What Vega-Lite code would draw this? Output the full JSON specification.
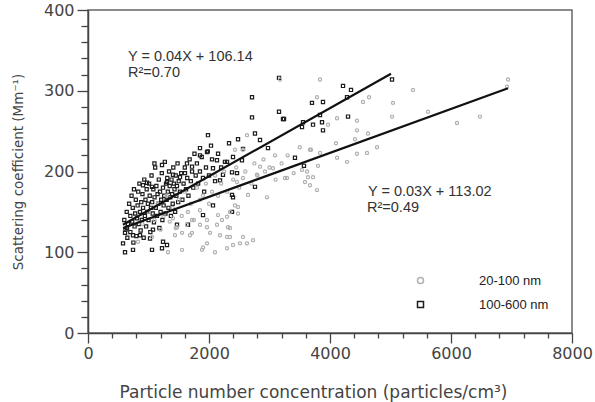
{
  "$schema": "https://vega.github.io/schema/vega-lite/v6.json",
  "width": 484,
  "height": 323,
  "autosize": {"type": "none"},
  "padding": {"left": 88, "top": 10, "right": 23, "bottom": 69},
  "background": "white",
  "config": {
    "view": {"stroke": "#666", "strokeWidth": 1.5},
    "font": "Liberation Sans",
    "axis": {
      "domainColor": "#444", "domainWidth": 1.5, "tickColor": "#444", "tickWidth": 1.3,
      "labelFont": "DejaVu Sans", "labelFontSize": 16, "labelColor": "#444",
      "titleFont": "DejaVu Sans", "titleFontWeight": "normal", "titleColor": "#444",
      "grid": false, "labelOverlap": false, "labelFlush": false
    }
  },
  "datasets": {
    "pts": [
      {"x":3157,"y":316,"g":"100-600 nm"},{"x":2711,"y":292,"g":"100-600 nm"},{"x":2711,"y":267,"g":"100-600 nm"},{"x":3157,"y":274,"g":"100-600 nm"},{"x":3240,"y":265,"g":"100-600 nm"},{"x":1983,"y":245,"g":"100-600 nm"},{"x":2760,"y":247,"g":"100-600 nm"},{"x":2331,"y":235,"g":"100-600 nm"},{"x":2480,"y":240,"g":"100-600 nm"},{"x":1223,"y":208,"g":"100-600 nm"},{"x":4215,"y":306,"g":"100-600 nm"},{"x":4347,"y":301,"g":"100-600 nm"},{"x":3702,"y":285,"g":"100-600 nm"},{"x":3884,"y":286,"g":"100-600 nm"},{"x":4281,"y":292,"g":"100-600 nm"},{"x":3223,"y":265,"g":"100-600 nm"},{"x":4298,"y":268,"g":"100-600 nm"},{"x":3719,"y":258,"g":"100-600 nm"},{"x":3884,"y":251,"g":"100-600 nm"},{"x":3868,"y":261,"g":"100-600 nm"},{"x":5025,"y":314,"g":"100-600 nm"},{"x":3421,"y":217,"g":"100-600 nm"},{"x":3570,"y":207,"g":"100-600 nm"},{"x":2843,"y":239,"g":"100-600 nm"},{"x":2562,"y":228,"g":"100-600 nm"},{"x":2545,"y":214,"g":"100-600 nm"},{"x":2975,"y":229,"g":"100-600 nm"},{"x":2264,"y":212,"g":"100-600 nm"},{"x":2380,"y":199,"g":"100-600 nm"},{"x":2231,"y":196,"g":"100-600 nm"},{"x":2463,"y":198,"g":"100-600 nm"},{"x":2182,"y":189,"g":"100-600 nm"},{"x":2380,"y":171,"g":"100-600 nm"},{"x":2397,"y":168,"g":"100-600 nm"},{"x":2760,"y":181,"g":"100-600 nm"},{"x":2380,"y":150,"g":"100-600 nm"},{"x":3835,"y":270,"g":"100-600 nm"},{"x":3554,"y":261,"g":"100-600 nm"},{"x":3537,"y":255,"g":"100-600 nm"},{"x":1636,"y":210,"g":"100-600 nm"},{"x":1851,"y":229,"g":"100-600 nm"},{"x":1967,"y":224,"g":"100-600 nm"},{"x":2033,"y":232,"g":"100-600 nm"},{"x":1851,"y":220,"g":"100-600 nm"},{"x":1719,"y":206,"g":"100-600 nm"},{"x":1603,"y":198,"g":"100-600 nm"},{"x":1405,"y":196,"g":"100-600 nm"},{"x":975,"y":186,"g":"100-600 nm"},{"x":909,"y":183,"g":"100-600 nm"},{"x":1058,"y":181,"g":"100-600 nm"},{"x":1306,"y":187,"g":"100-600 nm"},{"x":1521,"y":193,"g":"100-600 nm"},{"x":2066,"y":204,"g":"100-600 nm"},{"x":2298,"y":212,"g":"100-600 nm"},{"x":2397,"y":218,"g":"100-600 nm"},{"x":2132,"y":214,"g":"100-600 nm"},{"x":1098,"y":210,"g":"100-600 nm"},
      {"x":579,"y":111,"g":"100-600 nm"},{"x":612,"y":100,"g":"100-600 nm"},{"x":744,"y":103,"g":"100-600 nm"},{"x":1058,"y":103,"g":"100-600 nm"},{"x":1223,"y":105,"g":"100-600 nm"},{"x":612,"y":124,"g":"100-600 nm"},{"x":744,"y":121,"g":"100-600 nm"},{"x":860,"y":121,"g":"100-600 nm"},{"x":1025,"y":117,"g":"100-600 nm"},{"x":1074,"y":128,"g":"100-600 nm"},{"x":1240,"y":113,"g":"100-600 nm"},{"x":1306,"y":109,"g":"100-600 nm"},{"x":1471,"y":134,"g":"100-600 nm"},{"x":1653,"y":134,"g":"100-600 nm"},{"x":1901,"y":146,"g":"100-600 nm"},{"x":2066,"y":158,"g":"100-600 nm"},{"x":645,"y":130,"g":"100-600 nm"},
      {"x":600,"y":140,"g":"100-600 nm"},{"x":620,"y":128,"g":"100-600 nm"},{"x":640,"y":150,"g":"100-600 nm"},{"x":650,"y":118,"g":"100-600 nm"},{"x":660,"y":135,"g":"100-600 nm"},{"x":680,"y":160,"g":"100-600 nm"},{"x":700,"y":145,"g":"100-600 nm"},{"x":700,"y":125,"g":"100-600 nm"},{"x":720,"y":170,"g":"100-600 nm"},{"x":730,"y":138,"g":"100-600 nm"},{"x":740,"y":155,"g":"100-600 nm"},{"x":750,"y":112,"g":"100-600 nm"},{"x":760,"y":178,"g":"100-600 nm"},{"x":770,"y":132,"g":"100-600 nm"},{"x":780,"y":148,"g":"100-600 nm"},{"x":790,"y":165,"g":"100-600 nm"},{"x":800,"y":120,"g":"100-600 nm"},{"x":810,"y":142,"g":"100-600 nm"},{"x":820,"y":158,"g":"100-600 nm"},{"x":830,"y":175,"g":"100-600 nm"},{"x":840,"y":135,"g":"100-600 nm"},{"x":850,"y":185,"g":"100-600 nm"},{"x":860,"y":150,"g":"100-600 nm"},{"x":870,"y":127,"g":"100-600 nm"},{"x":880,"y":162,"g":"100-600 nm"},{"x":890,"y":140,"g":"100-600 nm"},{"x":900,"y":172,"g":"100-600 nm"},{"x":910,"y":155,"g":"100-600 nm"},{"x":920,"y":118,"g":"100-600 nm"},{"x":930,"y":190,"g":"100-600 nm"},{"x":940,"y":145,"g":"100-600 nm"},{"x":950,"y":165,"g":"100-600 nm"},{"x":960,"y":132,"g":"100-600 nm"},{"x":970,"y":178,"g":"100-600 nm"},{"x":980,"y":150,"g":"100-600 nm"},{"x":990,"y":160,"g":"100-600 nm"},{"x":1000,"y":140,"g":"100-600 nm"},{"x":1010,"y":185,"g":"100-600 nm"},{"x":1020,"y":170,"g":"100-600 nm"},{"x":1030,"y":125,"g":"100-600 nm"},{"x":1040,"y":155,"g":"100-600 nm"},{"x":1050,"y":195,"g":"100-600 nm"},{"x":1060,"y":162,"g":"100-600 nm"},{"x":1070,"y":148,"g":"100-600 nm"},{"x":1080,"y":178,"g":"100-600 nm"},{"x":1090,"y":137,"g":"100-600 nm"},{"x":1100,"y":168,"g":"100-600 nm"},{"x":1110,"y":205,"g":"100-600 nm"},{"x":1120,"y":155,"g":"100-600 nm"},{"x":1130,"y":182,"g":"100-600 nm"},{"x":1140,"y":145,"g":"100-600 nm"},{"x":1150,"y":172,"g":"100-600 nm"},{"x":1160,"y":160,"g":"100-600 nm"},{"x":1170,"y":190,"g":"100-600 nm"},{"x":1180,"y":130,"g":"100-600 nm"},{"x":1190,"y":175,"g":"100-600 nm"},{"x":1200,"y":150,"g":"100-600 nm"},{"x":1210,"y":165,"g":"100-600 nm"},{"x":1220,"y":198,"g":"100-600 nm"},{"x":1230,"y":140,"g":"100-600 nm"},{"x":1240,"y":180,"g":"100-600 nm"},{"x":1250,"y":158,"g":"100-600 nm"},{"x":1260,"y":170,"g":"100-600 nm"},{"x":1270,"y":212,"g":"100-600 nm"},{"x":1280,"y":148,"g":"100-600 nm"},{"x":1290,"y":185,"g":"100-600 nm"},{"x":1300,"y":165,"g":"100-600 nm"},{"x":1310,"y":192,"g":"100-600 nm"},{"x":1320,"y":175,"g":"100-600 nm"},{"x":1330,"y":155,"g":"100-600 nm"},{"x":1340,"y":200,"g":"100-600 nm"},{"x":1350,"y":182,"g":"100-600 nm"},{"x":1360,"y":168,"g":"100-600 nm"},{"x":1370,"y":145,"g":"100-600 nm"},{"x":1380,"y":190,"g":"100-600 nm"},{"x":1390,"y":172,"g":"100-600 nm"},{"x":1400,"y":160,"g":"100-600 nm"},{"x":1410,"y":205,"g":"100-600 nm"},{"x":1420,"y":185,"g":"100-600 nm"},{"x":1430,"y":178,"g":"100-600 nm"},{"x":1440,"y":150,"g":"100-600 nm"},{"x":1450,"y":195,"g":"100-600 nm"},{"x":1460,"y":170,"g":"100-600 nm"},{"x":1470,"y":182,"g":"100-600 nm"},{"x":1480,"y":210,"g":"100-600 nm"},{"x":1490,"y":162,"g":"100-600 nm"},{"x":1500,"y":188,"g":"100-600 nm"},{"x":1520,"y":175,"g":"100-600 nm"},{"x":1540,"y":198,"g":"100-600 nm"},{"x":1560,"y":165,"g":"100-600 nm"},{"x":1580,"y":185,"g":"100-600 nm"},{"x":1600,"y":205,"g":"100-600 nm"},{"x":1620,"y":178,"g":"100-600 nm"},{"x":1640,"y":192,"g":"100-600 nm"},{"x":1660,"y":170,"g":"100-600 nm"},{"x":1680,"y":215,"g":"100-600 nm"},{"x":1700,"y":188,"g":"100-600 nm"},{"x":1720,"y":200,"g":"100-600 nm"},{"x":1740,"y":180,"g":"100-600 nm"},{"x":1760,"y":222,"g":"100-600 nm"},{"x":1780,"y":195,"g":"100-600 nm"},{"x":1800,"y":210,"g":"100-600 nm"},{"x":1820,"y":185,"g":"100-600 nm"},{"x":1850,"y":200,"g":"100-600 nm"},{"x":1880,"y":218,"g":"100-600 nm"},{"x":1900,"y":192,"g":"100-600 nm"},{"x":1920,"y":175,"g":"100-600 nm"},{"x":1950,"y":205,"g":"100-600 nm"},{"x":1980,"y":225,"g":"100-600 nm"},{"x":2000,"y":195,"g":"100-600 nm"},{"x":2050,"y":215,"g":"100-600 nm"},{"x":2100,"y":188,"g":"100-600 nm"},{"x":2150,"y":222,"g":"100-600 nm"},{"x":2200,"y":205,"g":"100-600 nm"},
      {"x":6942,"y":314,"g":"20-100 nm"},{"x":5372,"y":301,"g":"20-100 nm"},{"x":3835,"y":314,"g":"20-100 nm"},{"x":3174,"y":314,"g":"20-100 nm"},{"x":4545,"y":286,"g":"20-100 nm"},{"x":4645,"y":292,"g":"20-100 nm"},{"x":5041,"y":285,"g":"20-100 nm"},{"x":3785,"y":292,"g":"20-100 nm"},{"x":5620,"y":274,"g":"20-100 nm"},{"x":6099,"y":260,"g":"20-100 nm"},{"x":6479,"y":268,"g":"20-100 nm"},{"x":5025,"y":268,"g":"20-100 nm"},{"x":4446,"y":263,"g":"20-100 nm"},{"x":4116,"y":266,"g":"20-100 nm"},{"x":3967,"y":258,"g":"20-100 nm"},{"x":4446,"y":251,"g":"20-100 nm"},{"x":4413,"y":240,"g":"20-100 nm"},{"x":4628,"y":247,"g":"20-100 nm"},{"x":4777,"y":230,"g":"20-100 nm"},{"x":4612,"y":223,"g":"20-100 nm"},{"x":4446,"y":222,"g":"20-100 nm"},{"x":4281,"y":212,"g":"20-100 nm"},{"x":4116,"y":217,"g":"20-100 nm"},{"x":4099,"y":235,"g":"20-100 nm"},{"x":3835,"y":223,"g":"20-100 nm"},{"x":3686,"y":227,"g":"20-100 nm"},{"x":3802,"y":207,"g":"20-100 nm"},{"x":3537,"y":202,"g":"20-100 nm"},{"x":3620,"y":200,"g":"20-100 nm"},{"x":3636,"y":193,"g":"20-100 nm"},{"x":3719,"y":193,"g":"20-100 nm"},{"x":3587,"y":187,"g":"20-100 nm"},{"x":3669,"y":183,"g":"20-100 nm"},{"x":3785,"y":177,"g":"20-100 nm"},{"x":3256,"y":192,"g":"20-100 nm"},{"x":6926,"y":305,"g":"20-100 nm"},
      {"x":826,"y":113,"g":"20-100 nm"},{"x":1058,"y":119,"g":"20-100 nm"},{"x":1322,"y":100,"g":"20-100 nm"},{"x":1554,"y":103,"g":"20-100 nm"},{"x":1438,"y":121,"g":"20-100 nm"},{"x":1554,"y":124,"g":"20-100 nm"},{"x":1686,"y":121,"g":"20-100 nm"},{"x":1719,"y":124,"g":"20-100 nm"},{"x":1884,"y":103,"g":"20-100 nm"},{"x":2099,"y":100,"g":"20-100 nm"},{"x":2298,"y":105,"g":"20-100 nm"},{"x":2397,"y":109,"g":"20-100 nm"},{"x":2512,"y":111,"g":"20-100 nm"},{"x":2628,"y":111,"g":"20-100 nm"},{"x":2727,"y":115,"g":"20-100 nm"},{"x":1967,"y":111,"g":"20-100 nm"},{"x":1901,"y":106,"g":"20-100 nm"},{"x":2017,"y":124,"g":"20-100 nm"},{"x":2182,"y":121,"g":"20-100 nm"},{"x":2298,"y":119,"g":"20-100 nm"},{"x":2562,"y":119,"g":"20-100 nm"},{"x":1967,"y":131,"g":"20-100 nm"},{"x":2132,"y":134,"g":"20-100 nm"},{"x":1851,"y":134,"g":"20-100 nm"},{"x":1471,"y":131,"g":"20-100 nm"},{"x":1636,"y":134,"g":"20-100 nm"},{"x":1719,"y":140,"g":"20-100 nm"},{"x":1967,"y":140,"g":"20-100 nm"},{"x":2215,"y":140,"g":"20-100 nm"},{"x":2347,"y":130,"g":"20-100 nm"},{"x":2347,"y":150,"g":"20-100 nm"},{"x":2430,"y":158,"g":"20-100 nm"},{"x":2480,"y":148,"g":"20-100 nm"},{"x":2149,"y":146,"g":"20-100 nm"},{"x":1851,"y":152,"g":"20-100 nm"},{"x":1405,"y":142,"g":"20-100 nm"},
      {"x":2628,"y":245,"g":"20-100 nm"},{"x":2562,"y":227,"g":"20-100 nm"},{"x":2430,"y":227,"g":"20-100 nm"},{"x":3091,"y":220,"g":"20-100 nm"},{"x":3669,"y":227,"g":"20-100 nm"},{"x":2843,"y":206,"g":"20-100 nm"},{"x":3058,"y":204,"g":"20-100 nm"},{"x":2926,"y":200,"g":"20-100 nm"},{"x":2793,"y":196,"g":"20-100 nm"},{"x":2562,"y":192,"g":"20-100 nm"},{"x":2463,"y":187,"g":"20-100 nm"},{"x":2645,"y":171,"g":"20-100 nm"},{"x":2959,"y":168,"g":"20-100 nm"},{"x":2480,"y":156,"g":"20-100 nm"},{"x":2298,"y":144,"g":"20-100 nm"},{"x":2314,"y":131,"g":"20-100 nm"},{"x":2347,"y":119,"g":"20-100 nm"},{"x":3289,"y":192,"g":"20-100 nm"},
      {"x":900,"y":135,"g":"20-100 nm"},{"x":1000,"y":150,"g":"20-100 nm"},{"x":1100,"y":140,"g":"20-100 nm"},{"x":1150,"y":160,"g":"20-100 nm"},{"x":1200,"y":128,"g":"20-100 nm"},{"x":1250,"y":145,"g":"20-100 nm"},{"x":1300,"y":170,"g":"20-100 nm"},{"x":1350,"y":138,"g":"20-100 nm"},{"x":1400,"y":155,"g":"20-100 nm"},{"x":1450,"y":130,"g":"20-100 nm"},{"x":1500,"y":165,"g":"20-100 nm"},{"x":1550,"y":145,"g":"20-100 nm"},{"x":1600,"y":175,"g":"20-100 nm"},{"x":1650,"y":150,"g":"20-100 nm"},{"x":1700,"y":160,"g":"20-100 nm"},{"x":1750,"y":140,"g":"20-100 nm"},{"x":1800,"y":180,"g":"20-100 nm"},{"x":1850,"y":165,"g":"20-100 nm"},{"x":1900,"y":170,"g":"20-100 nm"},{"x":1950,"y":185,"g":"20-100 nm"},{"x":2000,"y":160,"g":"20-100 nm"},{"x":2050,"y":175,"g":"20-100 nm"},{"x":2100,"y":195,"g":"20-100 nm"},{"x":2150,"y":170,"g":"20-100 nm"},{"x":2200,"y":185,"g":"20-100 nm"},{"x":2250,"y":200,"g":"20-100 nm"},{"x":2300,"y":175,"g":"20-100 nm"},{"x":2400,"y":190,"g":"20-100 nm"},{"x":2450,"y":205,"g":"20-100 nm"},{"x":2500,"y":180,"g":"20-100 nm"},{"x":2600,"y":200,"g":"20-100 nm"},{"x":2700,"y":185,"g":"20-100 nm"},{"x":2750,"y":210,"g":"20-100 nm"},{"x":2800,"y":195,"g":"20-100 nm"},{"x":2900,"y":215,"g":"20-100 nm"},{"x":3000,"y":205,"g":"20-100 nm"},{"x":3100,"y":190,"g":"20-100 nm"},{"x":3200,"y":210,"g":"20-100 nm"},{"x":3300,"y":220,"g":"20-100 nm"},{"x":3400,"y":198,"g":"20-100 nm"},{"x":3500,"y":230,"g":"20-100 nm"}
    ],
    "fits": [
      {"x":578,"y":134,"g":"100-600 nm"},{"x":5008,"y":321,"g":"100-600 nm"},
      {"x":580,"y":130,"g":"20-100 nm"},{"x":6942,"y":303,"g":"20-100 nm"}
    ],
    "notes": [
      {"x":661,"y":341.5,"t":"Y = 0.04X  + 106.14"},
      {"x":661,"y":321.5,"t":"R²=0.70"},
      {"x":4628,"y":175,"t":"Y = 0.03X + 113.02"},
      {"x":4612,"y":154.5,"t":"R²=0.49"}
    ]
  },
  "encoding": {
    "x": {
      "field": "x", "type": "quantitative",
      "scale": {"domain": [0, 8000], "nice": false},
      "axis": {
        "title": "Particle number concentration (particles/cm³)",
        "values": [0,400,800,1200,1600,2000,2400,2800,3200,3600,4000,4400,4800,5200,5600,6000,6400,6800,7200,7600,8000],
        "format": "d",
        "labelExpr": "datum.value % 2000 === 0 ? datum.label : ''",
        "tickSize": {"condition": {"test": "datum.value % 2000 === 0", "value": 10}, "value": 5},
        "labelPadding": 2,
        "titleFontSize": 17,
        "titleColor": "#444",
        "titleX": 225, "titleY": 59, "titleBaseline": "middle"
      }
    },
    "y": {
      "field": "y", "type": "quantitative",
      "scale": {"domain": [0, 400], "nice": false},
      "axis": {
        "title": "Scattering coefficient (Mm⁻¹)",
        "values": [0,20,40,60,80,100,120,140,160,180,200,220,240,260,280,300,320,340,360,380,400],
        "format": "d",
        "labelExpr": "datum.value % 100 === 0 ? datum.label : ''",
        "tickSize": {"condition": {"test": "datum.value % 100 === 0", "value": 11}, "value": 7},
        "labelPadding": 3,
        "titleFontSize": 13.5,
        "titleColor": "#444",
        "titleX": -70, "titleBaseline": "middle"
      }
    }
  },
  "layer": [
    {
      "data": {"name": "pts"},
      "mark": {"type": "point", "filled": false, "size": 10, "strokeWidth": 1.2, "opacity": 1},
      "encoding": {
        "color": {
          "field": "g", "type": "nominal",
          "scale": {"domain": ["20-100 nm", "100-600 nm"], "range": ["#b0b0b0", "#1e1e1e"]},
          "legend": {
            "title": null, "orient": "none", "legendX": 326, "legendY": 264,
            "labelFont": "Liberation Sans", "labelFontSize": 13, "labelColor": "#222",
            "labelOffset": 52, "rowPadding": 10, "symbolSize": 36, "symbolStrokeWidth": 1.5
          }
        },
        "shape": {
          "field": "g", "type": "nominal",
          "scale": {"domain": ["20-100 nm", "100-600 nm"], "range": ["circle", "square"]},
          "legend": null
        }
      }
    },
    {
      "data": {"name": "fits"},
      "mark": {"type": "line", "color": "#111", "strokeWidth": 2.2},
      "encoding": {"detail": {"field": "g", "type": "nominal"}}
    },
    {
      "data": {"name": "notes"},
      "mark": {"type": "text", "align": "left", "baseline": "middle", "font": "Liberation Sans", "fontSize": 14.5, "color": "#333"},
      "encoding": {"text": {"field": "t", "type": "nominal"}}
    }
  ]
}
